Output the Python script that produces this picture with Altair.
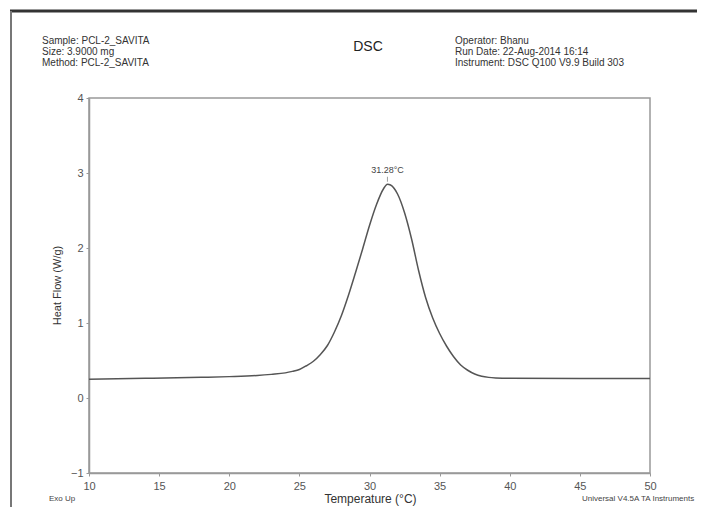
import altair as alt
import pandas as pd

# ---- data ----
temperature = [10, 14, 18, 20, 22, 23, 24, 24.5, 25.0, 25.5, 26.0, 26.5, 27.0, 27.5, 28.0,
               28.5, 29.0, 29.5, 30.0, 30.5, 31.0, 31.28, 31.5, 32.0, 32.5, 33.0, 33.5, 34.0,
               34.5, 35.0, 35.5, 36.0, 36.5, 37.0, 37.5, 38.0, 38.5, 39.0, 40, 45, 50]
heat_flow = [0.25, 0.262, 0.276, 0.285, 0.30, 0.315, 0.335, 0.355, 0.38, 0.43, 0.49, 0.58,
             0.70, 0.88, 1.10, 1.37, 1.67, 1.98, 2.30, 2.58, 2.79, 2.85, 2.84, 2.72, 2.47,
             2.12, 1.70, 1.34, 1.07, 0.86, 0.69, 0.55, 0.44, 0.37, 0.32, 0.29, 0.275, 0.268,
             0.263, 0.26, 0.26]

peak_temp = [31.28]
peak_flow = [2.85]
peak_label = ["31.28°C"]

x_tick_values = [10 + 1.25 * i for i in range(33)]
y_tick_values = [-1 + 0.25 * i for i in range(21)]

header_left = ["Sample: PCL-2_SAVITA", "Size:  3.9000 mg", "Method: PCL-2_SAVITA"]
header_right = ["Operator: Bhanu", "Run Date: 22-Aug-2014 16:14",
                "Instrument: DSC Q100 V9.9 Build 303"]
title_text = "DSC"
footer_left = "Exo Up"
footer_right = "Universal V4.5A TA Instruments"

FONT = "Liberation Sans"
W, H = 561, 375

df = pd.DataFrame({"temp": temperature, "flow": heat_flow})
peak_df = pd.DataFrame({"temp": peak_temp, "flow": peak_flow, "label": peak_label})

x_scale = alt.Scale(domain=[10, 50], nice=False, zero=False)
y_scale = alt.Scale(domain=[-1, 4], nice=False, zero=False)

x_axis = alt.Axis(
    values=x_tick_values,
    labelExpr="datum.value % 5 == 0 ? format(datum.value, 'd') : ''",
    labelFlush=False,
    tickSize=3, tickColor="#999", domainColor="#999", domainWidth=1.5,
    labelFont=FONT, labelFontSize=11, labelColor="#555", labelPadding=4,
    grid=False, title="Temperature (°C)", titleFont=FONT, titleFontSize=12,
    titleFontWeight="normal", titleColor="#333", titleX=281, titleY=25,
    titleBaseline="middle",
)
y_axis = alt.Axis(
    values=y_tick_values,
    labelExpr="datum.value % 1 == 0 ? format(datum.value, 'd') : ''",
    labelFlush=False,
    tickSize=3, tickColor="#999", domainColor="#999", domainWidth=1.5,
    labelFont=FONT, labelFontSize=11, labelColor="#555", labelPadding=3,
    grid=False, title="Heat Flow (W/g)", titleFont=FONT, titleFontSize=11,
    titleFontWeight="normal", titleColor="#333", titleX=-32, titleY=187,
    titleAngle=270, titleBaseline="middle", titleAlign="center",
)

curve = alt.Chart(df).mark_line(color="#555", strokeWidth=1.5, interpolate="monotone").encode(
    x=alt.X("temp:Q", scale=x_scale, axis=x_axis),
    y=alt.Y("flow:Q", scale=y_scale, axis=y_axis),
)

peak_text = alt.Chart(peak_df).mark_text(
    font=FONT, fontSize=9, color="#444", dy=-14, baseline="middle"
).encode(x="temp:Q", y="flow:Q", text="label:N")

peak_tick = alt.Chart(peak_df).mark_tick(
    orient="vertical", size=5, thickness=1, color="#777", yOffset=-5
).encode(x="temp:Q", y="flow:Q")

texts = []
for i, t in enumerate(header_left):
    texts.append(alt.Chart(pd.DataFrame({"t": [t]})).mark_text(
        font=FONT, fontSize=10, color="#333", align="left", baseline="middle"
    ).encode(x=alt.value(-47), y=alt.value(-57 + 11 * i), text="t:N"))
for i, t in enumerate(header_right):
    texts.append(alt.Chart(pd.DataFrame({"t": [t]})).mark_text(
        font=FONT, fontSize=10, color="#333", align="left", baseline="middle"
    ).encode(x=alt.value(366), y=alt.value(-57 + 11 * i), text="t:N"))
texts.append(alt.Chart(pd.DataFrame({"t": [title_text]})).mark_text(
    font=FONT, fontSize=14, color="#222", align="center", baseline="middle"
).encode(x=alt.value(279), y=alt.value(-51), text="t:N"))
texts.append(alt.Chart(pd.DataFrame({"t": [footer_left]})).mark_text(
    font=FONT, fontSize=8, color="#444", align="left", baseline="middle"
).encode(x=alt.value(-40), y=alt.value(401), text="t:N"))
texts.append(alt.Chart(pd.DataFrame({"t": [footer_right]})).mark_text(
    font=FONT, fontSize=8, color="#444", align="left", baseline="middle"
).encode(x=alt.value(493), y=alt.value(401), text="t:N"))

# page frame lines (decoration)
top_line = alt.Chart(pd.DataFrame({"a": [0]})).mark_rule(color="#333", strokeWidth=3).encode(
    x=alt.value(-79), x2=alt.value(620), y=alt.value(-87))
left_line = alt.Chart(pd.DataFrame({"a": [0]})).mark_rule(color="#777", strokeWidth=2).encode(
    x=alt.value(-78), y=alt.value(-87), y2=alt.value(420))

chart = alt.layer(curve, peak_tick, peak_text, top_line, left_line, *texts).properties(
    width=W, height=H,
    autosize=alt.AutoSizeParams(type="none"),
    padding={"left": 81, "top": 90, "right": 47, "bottom": 34},
    background="white",
).configure_view(stroke="#999", strokeWidth=1.5)

chart.save("out.html", embed_options={"renderer": "svg", "actions": False})
